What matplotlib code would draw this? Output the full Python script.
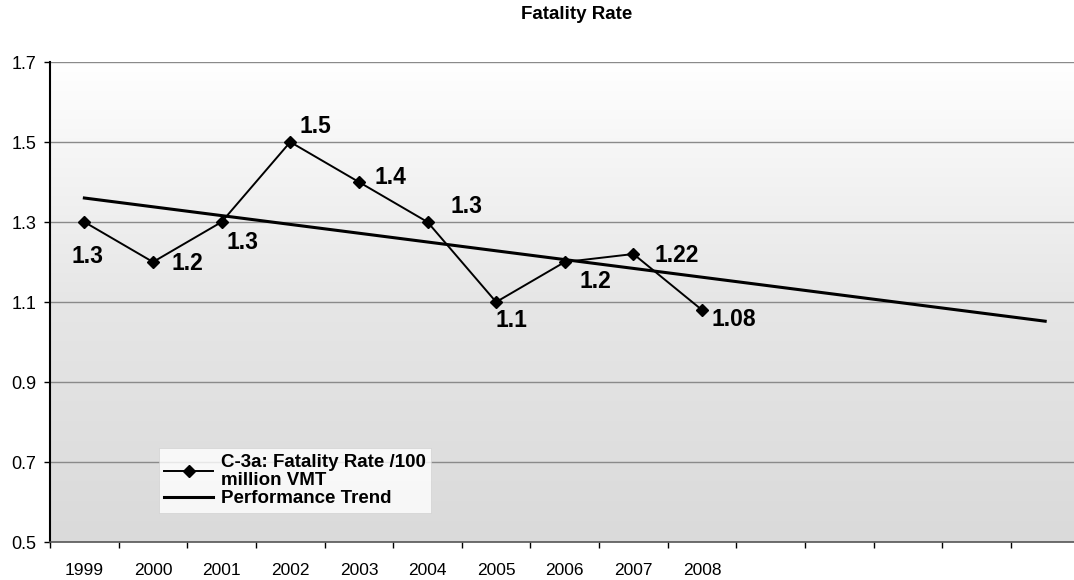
import numpy as np
import matplotlib
matplotlib.use("Agg")
import matplotlib.pyplot as plt
from matplotlib.colors import LinearSegmentedColormap

plt.rcParams["font.family"] = ["Liberation Sans", "DejaVu Sans"]

# data
years = [1999, 2000, 2001, 2002, 2003, 2004, 2005, 2006, 2007, 2008]
fatality_rate = [1.3, 1.2, 1.3, 1.5, 1.4, 1.3, 1.1, 1.2, 1.22, 1.08]
rate_labels = ["1.3", "1.2", "1.3", "1.5", "1.4", "1.3", "1.1", "1.2", "1.22", "1.08"]
trend_years = [1999, 2013]
trend_values = [1.36, 1.052]
y_ticks = [0.5, 0.7, 0.9, 1.1, 1.3, 1.5, 1.7]

# label offsets in points (placement only)
label_offsets = [(2, -25), (25, -1), (15, -15), (18, 11), (23, 3),
                 (28, 11), (11, -13), (22, -14), (31, -1), (23, -7)]

fig = plt.figure(figsize=(10.74, 5.8), dpi=100)
ax = fig.add_axes([0.0466, 0.0655, 0.9534, 0.8276])

x_lo, x_hi = 1998.5, 2013.42
ax.set_xlim(x_lo, x_hi)
ax.set_ylim(0.5, 1.7)

# stippled grey background -> soft vertical gradient
cmap = LinearSegmentedColormap.from_list("bg", ["#dadada", "#e6e6e6", "#ffffff"])
grad = np.linspace(0, 1, 256).reshape(-1, 1)
ax.imshow(grad, extent=[x_lo, x_hi, 0.5, 1.7], origin="lower", aspect="auto",
          cmap=cmap, zorder=0)

for yv in y_ticks[1:]:
    ax.axhline(yv, color="#8a8a8a", linewidth=1.0, zorder=1)

ax.plot(years, fatality_rate, color="black", linewidth=1.4, marker="D",
        markersize=6.5, label="C-3a: Fatality Rate /100\nmillion VMT", zorder=3)
ax.plot(trend_years, trend_values, color="black", linewidth=2.2,
        label="Performance Trend", zorder=2)

for x, y, txt, off in zip(years, fatality_rate, rate_labels, label_offsets):
    ax.annotate(txt, (x, y), xytext=off, textcoords="offset points",
                ha="center", va="center", fontsize=16.5, fontweight="bold")

ax.set_yticks(y_ticks)
ax.set_yticklabels([f"{v:.1f}" for v in y_ticks], fontsize=13)
ax.tick_params(axis="y", length=4, width=1, pad=6)

# category boundaries as ticks, year labels in the middle
ax.set_xticks(np.arange(1998.5, 2013.5, 1.0))
ax.set_xticklabels([])
ax.set_xticks(years, minor=True)
ax.set_xticklabels([str(y) for y in years], minor=True, fontsize=12.5)
ax.tick_params(axis="x", which="major", length=4, width=1, direction="out")
ax.tick_params(axis="x", which="minor", length=0, pad=15)

for s in ["top", "right"]:
    ax.spines[s].set_visible(False)
ax.spines["left"].set_linewidth(1.5)
ax.spines["bottom"].set_color("#555555")
ax.spines["bottom"].set_linewidth(1.2)

fig.text(0.537, 0.975, "Fatality Rate", ha="center", va="center",
         fontsize=13.5, fontweight="bold")

leg = ax.legend(loc="upper left", bbox_to_anchor=(0.097, 0.215), frameon=True,
                fancybox=False, handlelength=2.6, handletextpad=0.4,
                labelspacing=0.05, borderpad=0.3, prop={"weight": "bold", "size": 13.5})
leg.get_frame().set_facecolor("white")
leg.get_frame().set_edgecolor("#cccccc")
leg.get_frame().set_linewidth(0.5)
for t in leg.get_texts():
    t.set_linespacing(1.1)

fig.savefig("out.png", dpi=100)
